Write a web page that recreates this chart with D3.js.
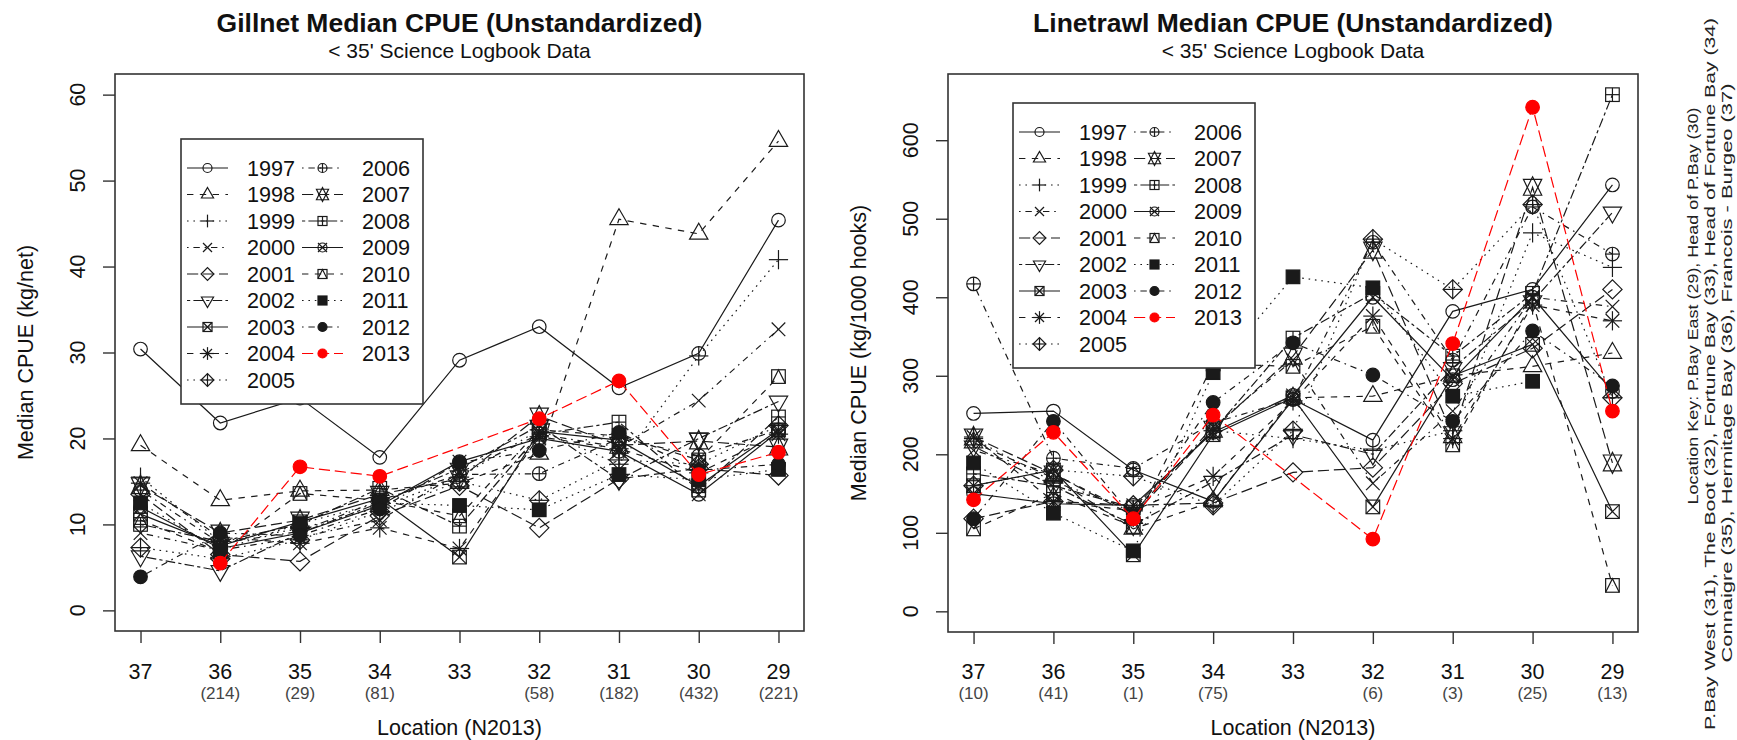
<!DOCTYPE html>
<html><head><meta charset="utf-8">
<script src="https://cdn.jsdelivr.net/npm/d3@7"></script>
<style>
body{margin:0;background:#fff}
svg{display:block}
text{font-family:"Liberation Sans",Arial,sans-serif;fill:#111}
</style>
</head><body>
<svg id="chart" width="1737" height="740"></svg>
<script>
// ---------------- DATA ----------------
const locations = ["37","36","35","34","33","32","31","30","29"];
const years = [1997,1998,1999,2000,2001,2002,2003,2004,2005,2006,2007,2008,2009,2010,2011,2012,2013];
const gillnetN = ["","(214)","(29)","(81)","","(58)","(182)","(432)","(221)"];
const linetrawlN = ["(10)","(41)","(1)","(75)","","(6)","(3)","(25)","(13)"];
const gillnetTicks = [0,10,20,30,40,50,60];
const linetrawlTicks = [0,100,200,300,400,500,600];
const gillnetLimits = [0,60];
const symbolPch = [1,2,3,4,5,6,7,8,9,10,11,12,13,14,15,16,16];
const lineTypes = ["solid","dashed","dotted","dotdash","longdash","twodash"];

// Gillnet median CPUE (kg/net), one row per year, columns follow `locations`
const gillnetCPUE = [
  [30.4,21.8,24.7,17.8,29.1,33.0,25.9,29.9,45.4], // 1997
  [19.2,12.8,13.9,14.0,14.8,18.2,45.5,43.8,54.6], // 1998
  [15.5, 8.0, 9.5,12.0,15.5,21.0,17.0,29.6,40.8], // 1999
  [ 9.0, 7.0, 8.5,10.5,16.0,20.5,19.0,24.4,32.7], // 2000
  [13.5, 6.5, 5.7,11.0,14.5, 9.6,15.3,16.5,15.7], // 2001
  [ 6.3, 4.6, 9.0,12.5,16.5,21.5,15.2,20.0,24.3], // 2002
  [11.2, 7.5,10.3,13.0, 6.2,20.8,19.8,14.5,21.0], // 2003
  [14.8, 8.5, 7.8, 9.6, 7.2,20.2,18.8,16.0,20.5], // 2004
  [ 7.3, 6.0, 8.2,11.5,15.0,12.8,17.5,17.0,21.5], // 2005
  [14.0, 7.8, 9.2,12.8,15.8,15.9,20.0,18.0,21.0], // 2006
  [14.5, 9.0,10.5,13.5,15.3,22.6,19.2,19.7,19.0], // 2007
  [10.0, 8.0,10.0,14.2, 9.8,20.5,21.9,14.0,22.5], // 2008
  [12.0, 7.2, 9.0,12.2,17.3,20.0,18.5,13.5,20.8], // 2009
  [10.5, 6.8,13.6,12.8,11.0,21.0,20.3,17.5,27.2], // 2010
  [12.5, 7.0,10.1,12.5,12.2,11.7,15.8,15.2,16.4], // 2011
  [ 3.9, 9.0, 8.7,11.8,17.2,18.6,20.7,16.3,17.0], // 2012
  [null, 5.5,16.7,15.6,null,22.3,26.7,15.8,18.4]  // 2013
];

// Linetrawl median CPUE (kg/1000 hooks)
const linetrawlCPUE = [
  [252,255,180,140,270,218,382,410,543], // 1997
  [215,170,105,140,272,274,300,312,329], // 1998
  [220,165,130,230,220,205,230,482,438], // 1999
  [205,175,125,235,320,163,255,400,388], // 2000
  [118,140,135,138,177,183,290,335,410], // 2001
  [210,160,110,165,225,200,310,395,508], // 2002
  [160,180, 72,225,272,133,300,340,127], // 2003
  [222,140,128,172,268,376,220,390,370], // 2004
  [160,180,172,135,230,474,410,518,272], // 2005
  [417,195,182,240,270,470,320,515,455], // 2006
  [222,175,122,232,325,460,225,540,189], // 2007
  [175,160,132,230,348,405,325,405,658], // 2008
  [150,137,135,228,275,400,295,400,280], // 2009
  [105,150,108,315,312,363,212,395, 33], // 2010
  [189,125, 77,304,426,412,274,293,null], // 2011
  [118,242,120,266,342,301,242,357,287], // 2012
  [142,228,118,250,null, 92,341,642,255]  // 2013
];

const keyLines = [
  "Location Key: P.Bay East (29), Head of P.Bay (30)",
  "P.Bay West (31), The Boot (32), Fortune Bay (33), Head of Fortune Bay (34)",
  "Connaigre (35), Hermitage Bay (36), Francois - Burgeo (37)"
];

// ---------------- DRAWING ----------------
const svg = d3.select("#chart");
svg.append("rect").attr("width",1737).attr("height",740).attr("fill","#fff");

const K = 1.6;
const dashMap = {
  solid: null,
  dashed: [4,4].map(d=>d*K).join(","),
  dotted: [1,3].map(d=>d*K).join(","),
  dotdash: [1,3,4,3].map(d=>d*K).join(","),
  longdash: [7,3].map(d=>d*K).join(","),
  twodash: [2,2,6,2].map(d=>d*K).join(",")
};
const LINECOL = "#1a1a1a";
const colorOf = i => years[i]===2013 ? "#ff0000" : LINECOL;
const ltyOf = i => lineTypes[i % 6];

function sym(g, pch, x, y, u, col){
  const s = g.append("g").attr("stroke", col).attr("fill","none").attr("stroke-width",1.2);
  const circ = r => s.append("circle").attr("cx",x).attr("cy",y).attr("r",r);
  const ln = (x1,y1,x2,y2) => s.append("line").attr("x1",x1).attr("y1",y1).attr("x2",x2).attr("y2",y2);
  const poly = pts => s.append("polygon").attr("points", pts.map(p=>p.join(",")).join(" "));
  const rect = h => s.append("rect").attr("x",x-h).attr("y",y-h).attr("width",2*h).attr("height",2*h);
  const TRC0=1.5551, TRC1=1.3468, TRC2=0.7776, S2=Math.SQRT2;
  const r=TRC0*u, yc=TRC2*u, xc=TRC1*u;
  switch(pch){
    case 1: circ(u); break;
    case 2: poly([[x,y-r],[x+xc,y+yc],[x-xc,y+yc]]); break;
    case 3: ln(x-S2*u,y,x+S2*u,y); ln(x,y-S2*u,x,y+S2*u); break;
    case 4: ln(x-u,y-u,x+u,y+u); ln(x-u,y+u,x+u,y-u); break;
    case 5: poly([[x-S2*u,y],[x,y-S2*u],[x+S2*u,y],[x,y+S2*u]]); break;
    case 6: poly([[x,y+r],[x+xc,y-yc],[x-xc,y-yc]]); break;
    case 7: rect(u); ln(x-u,y-u,x+u,y+u); ln(x-u,y+u,x+u,y-u); break;
    case 8: ln(x-u,y-u,x+u,y+u); ln(x-u,y+u,x+u,y-u); ln(x-S2*u,y,x+S2*u,y); ln(x,y-S2*u,x,y+S2*u); break;
    case 9: poly([[x-S2*u,y],[x,y-S2*u],[x+S2*u,y],[x,y+S2*u]]); ln(x-S2*u,y,x+S2*u,y); ln(x,y-S2*u,x,y+S2*u); break;
    case 10: circ(u); ln(x-u,y,x+u,y); ln(x,y-u,x,y+u); break;
    case 11: { const y2 = 0.5*(yc+r);
      poly([[x,y+r],[x+xc,y-y2],[x-xc,y-y2]]);
      poly([[x,y-r],[x+xc,y+y2],[x-xc,y+y2]]); break; }
    case 12: rect(u); ln(x-u,y,x+u,y); ln(x,y-u,x,y+u); break;
    case 13: circ(u); ln(x-u,y-u,x+u,y+u); ln(x-u,y+u,x+u,y-u); break;
    case 14: rect(u); s.append("polyline").attr("points",`${x-u},${y+u} ${x},${y-u} ${x+u},${y+u}`); break;
    case 15: rect(u).attr("fill",col); break;
    case 16: circ(u).attr("fill",col); break;
  }
}

function panel(opts){
  const {x0,x1,y0,y1,data,ylim,ticks,nLabels,title,ylab,legend} = opts;
  const g = svg.append("g");
  const xs = d3.scaleLinear().domain([1-0.32, 9+0.32]).range([x0,x1]);
  const ext = (ylim[1]-ylim[0])*0.04;
  const ys = d3.scaleLinear().domain([ylim[0]-ext, ylim[1]+ext]).range([y1,y0]);
  const cx = (x0+x1)/2;

  // titles
  g.append("text").attr("x",cx).attr("y",32).attr("text-anchor","middle")
    .attr("font-size",26.5).attr("font-weight","bold").text(title);
  g.append("text").attr("x",cx).attr("y",58).attr("text-anchor","middle")
    .attr("font-size",21).text("< 35' Science Logbook Data");

  // y axis
  const ya = d3.axisLeft(ys).tickValues(ticks).tickSize(12).tickFormat("");
  const yg = g.append("g").attr("transform",`translate(${x0},0)`).call(ya);
  yg.select(".domain").remove();
  yg.selectAll("line").attr("stroke","#333").attr("stroke-width",1.4);
  ticks.forEach(t=>{
    g.append("text").attr("transform",`translate(${x0-38},${ys(t)}) rotate(-90)`)
      .attr("text-anchor","middle").attr("dy","0.35em").attr("font-size",21.5).text(t);
  });
  g.append("text").attr("transform",`translate(${x0-90},${(y0+y1)/2}) rotate(-90)`)
    .attr("text-anchor","middle").attr("dy","0.35em").attr("font-size",21.5).text(ylab);

  // x axis
  const xa = d3.axisBottom(xs).tickValues(d3.range(1,10)).tickSize(12).tickFormat("");
  const xg = g.append("g").attr("transform",`translate(0,${y1})`).call(xa);
  xg.select(".domain").remove();
  xg.selectAll("line").attr("stroke","#333").attr("stroke-width",1.4);
  locations.forEach((loc,i)=>{
    g.append("text").attr("x",xs(i+1)).attr("y",679).attr("text-anchor","middle")
      .attr("font-size",21.5).text(loc);
    if(nLabels[i]) g.append("text").attr("x",xs(i+1)).attr("y",699).attr("text-anchor","middle")
      .attr("font-size",17).style("fill","#444").text(nLabels[i]);
  });
  g.append("text").attr("x",cx).attr("y",735).attr("text-anchor","middle")
    .attr("font-size",21.5).text("Location (N2013)");

  // series
  const plotG = g.append("g");
  data.forEach((row,i)=>{
    const pts = row.map((v,j)=>({x:j+1,v})).filter(d=>d.v!==null);
    const col = colorOf(i);
    const line = d3.line().x(d=>xs(d.x)).y(d=>ys(d.v));
    plotG.append("path").attr("d",line(pts)).attr("fill","none").attr("stroke",col)
      .attr("stroke-width",1.2).attr("stroke-dasharray",dashMap[ltyOf(i)]);
    pts.forEach(d=>sym(plotG, symbolPch[i], xs(d.x), ys(d.v), 6.8, col));
  });

  // box
  g.append("rect").attr("x",x0).attr("y",y0).attr("width",x1-x0).attr("height",y1-y0)
    .attr("fill","none").attr("stroke","#333").attr("stroke-width",1.6);

  // legend
  const L = legend;
  const lg = g.append("g");
  lg.append("rect").attr("x",L.x).attr("y",L.y).attr("width",242).attr("height",265)
    .attr("fill","#fff").attr("stroke","#333").attr("stroke-width",1.6);
  years.forEach((yr,i)=>{
    const col = i<9 ? 0 : 1, row = i<9 ? i : i-9;
    const cy = L.y + 29 + row*26.5;
    const lx = L.x + (col===0 ? 6 : 121);
    const c = colorOf(i);
    lg.append("line").attr("x1",lx).attr("x2",lx+41).attr("y1",cy).attr("y2",cy)
      .attr("stroke",c).attr("stroke-width",1.2).attr("stroke-dasharray",dashMap[ltyOf(i)]);
    sym(lg, symbolPch[i], lx+20.5, cy, 4.5, c);
    lg.append("text").attr("x",L.x + (col===0 ? 66 : 181)).attr("y",cy).attr("dy","0.36em")
      .attr("font-size",21.6).text(yr);
  });
}

panel({x0:115,x1:804,y0:74,y1:631,data:gillnetCPUE,ylim:gillnetLimits,ticks:gillnetTicks,
  nLabels:gillnetN,title:"Gillnet Median CPUE (Unstandardized)",ylab:"Median CPUE (kg/net)",
  legend:{x:181,y:139}});
const ltMax = d3.max(linetrawlCPUE.flat());
panel({x0:948,x1:1638,y0:74,y1:632,data:linetrawlCPUE,ylim:[0,ltMax],ticks:linetrawlTicks,
  nLabels:linetrawlN,title:"Linetrawl Median CPUE (Unstandardized)",ylab:"Median CPUE (kg/1000 hooks)",
  legend:{x:1013,y:103}});

// location key in the right margin
const keyX = [1693,1710,1727];
const keyY = [306,374,373];
const keyLen = [397,712,579];
keyLines.forEach((t,i)=>{
  svg.append("text").attr("transform",`translate(${keyX[i]},${keyY[i]}) rotate(-90)`)
    .attr("text-anchor","middle").attr("dy","0.36em").attr("font-size",15)
    .attr("textLength",keyLen[i]).attr("lengthAdjust","spacingAndGlyphs")
    .style("fill","#222").text(t);
});
</script>
</body></html>
